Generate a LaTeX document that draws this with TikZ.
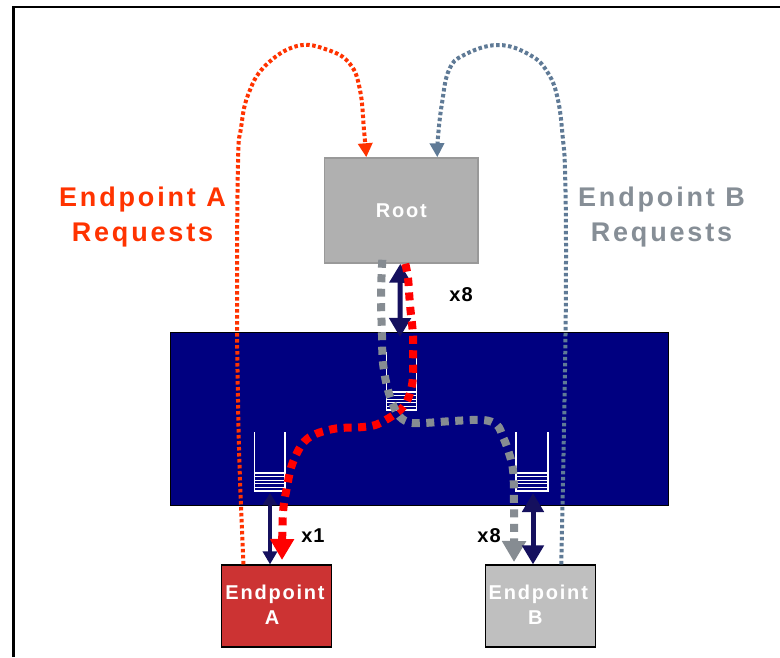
\documentclass[tikz,border=0pt]{standalone}
\usepackage{fontspec}
\setmainfont{Liberation Sans}
\newfontfamily\lsfont[LetterSpace=9]{Liberation Sans}
\newfontfamily\lgfont[LetterSpace=10.5]{Liberation Sans}
\newfontfamily\cntfont[LetterSpace=5]{Liberation Sans}
\usetikzlibrary{arrows.meta}
\definecolor{navyfill}{HTML}{000080}
\definecolor{arrownavy}{HTML}{15105E}
\definecolor{reqred}{HTML}{FF3300}
\definecolor{reqblue}{HTML}{5F7A96}
\definecolor{flowgray}{HTML}{868C92}
\definecolor{labelgray}{HTML}{868E96}
\definecolor{boxred}{HTML}{CC3333}
\tikzset{
  boxnode/.style={draw=black,line width=1.2pt,inner sep=0pt,align=center,text=white,font=\lsfont\bfseries\fontsize{20}{25}\selectfont},
  reqline/.style={line width=4pt,dash pattern=on 3.5pt off 2.5pt},
  flowline/.style={line width=8pt,dash pattern=on 8pt off 6.5pt},
  bigarrow/.style={draw=arrownavy,line width=5pt,{Triangle[width=21pt,length=19pt]}-{Triangle[width=21pt,length=19pt]}},
  smallarrow/.style={draw=arrownavy,line width=3.5pt,{Triangle[width=14pt,length=12pt]}-{Triangle[width=14pt,length=13pt]}},
  queueline/.style={draw=white,line width=1.6pt},
  sidelabel/.style={font=\lgfont\bfseries\fontsize{27}{35}\selectfont,align=center},
  countlabel/.style={font=\cntfont\bfseries\fontsize{20}{24}\selectfont,text=black}
}
\newcommand{\queuebox}[4]{% left, right, top, bottom
  \draw[queueline] (#1,#3) -- (#1,#4) -- (#2,#4) -- (#2,#3);
  \foreach \k in {1,...,5}{\draw[queueline,line width=1.2pt] (#1,#4-\k*3.6) -- (#2,#4-\k*3.6);}
}
\begin{document}
\begin{tikzpicture}[x=1pt,y=-1pt]
\useasboundingbox (0,0) rectangle (780,657);
\fill[white] (0,0) rectangle (780,657);
\draw[black,line width=2.5pt] (13.5,657) -- (13.5,7) -- (780,7);
% switch
\node[draw=black,line width=1pt,fill=navyfill,minimum width=498pt,minimum height=173pt,inner sep=0pt] (sw) at (419,418.5) {};
% boxes
\node[boxnode,draw=black!40,fill=black!31,line width=1.5pt,minimum width=153.5pt,minimum height=105pt] (root) at (401.3,210.5) {Root};
\node[boxnode,fill=boxred,minimum width=110pt,minimum height=82pt] (epA) at (276.5,606) {\raisebox{2pt}{Endpoint}\hspace*{3pt}\\\raisebox{2pt}{A}\hspace*{9pt}};
\node[boxnode,fill=black!25,minimum width=110pt,minimum height=82pt] (epB) at (540.3,606) {\raisebox{2pt}{Endpoint}\hspace*{4pt}\\\raisebox{2pt}{B}\hspace*{10pt}};
% request paths
\coordinate (reqAs) at ([xshift=-33pt]epA.north);
\coordinate (reqAe) at ([xshift=-35pt]root.north);
\coordinate (reqBs) at ([xshift=21pt]epB.north);
\coordinate (reqBe) at ([xshift=36pt]root.north);
\draw[reqline,draw=reqred,-{Triangle[width=14pt,length=14pt,fill=reqred]}] plot[smooth,tension=0.7] coordinates {(reqAs) (240,480) (238,400) (237,300) (238,163) (241,128) (248,95) (265,66) (297,46) (328,50) (350,64) (360,90) (364,130) (reqAe)};
\draw[reqline,draw=reqblue,-{Triangle[width=14pt,length=14pt,fill=reqblue]}] plot[smooth,tension=0.7] coordinates {(reqBs) (565,370) (566,250) (565,170) (563,140) (558,100) (548,73) (530,55) (498,45) (464,55) (449,70) (442,103) (438,137) (reqBe)};
% queues
\queuebox{254.5}{285}{432}{491}
\queuebox{516}{548}{432}{491}
\queuebox{386.5}{416.5}{352}{410}
% navy arrows
\coordinate (armRt) at ([xshift=-1pt]root.south);
\coordinate (armRb) at (400,337);
\coordinate (armAt) at (270,493);
\coordinate (armAb) at (epA.north -| armAt);
\coordinate (armBt) at (533,493);
\coordinate (armBb) at (epB.north -| armBt);
\draw[bigarrow] (armRt) -- (armRb);
\draw[smallarrow] (armAt) -- (armAb);
% thick flows
\coordinate (redS) at ([xshift=4pt]root.south);
\coordinate (greyS) at ([xshift=-19pt,yshift=4pt]root.south);
\coordinate (redE) at (282,560);
\coordinate (greyE) at (514,562);
\draw[flowline,draw=red,-{Triangle[width=23pt,length=21pt,fill=red]}] plot[smooth,tension=0.6] coordinates {(redS) (408,278) (410,305) (413,335) (413,358) (412,385) (403,407) (380,423) (363,427) (333,429) (307,439) (293,462) (287,487) (283,513) (redE)};
\draw[flowline,draw=flowgray,-{Triangle[width=23pt,length=21pt,fill=flowgray]}] plot[smooth,tension=0.6] coordinates {(greyS) (381,295) (382,335) (383,363) (388,390) (397,413) (408,422) (423,423) (453,421) (483,420) (497,425) (503,437) (508,450) (513,470) (514,503) (greyE)};
\draw[bigarrow] (armBt) -- (armBb);
% labels
\node[sidelabel,text=reqred] (labA) at (142.5,217) {Endpoint A\\Requests};
\node[sidelabel,text=labelgray] (labB) at (661.5,217) {Endpoint B\\Requests};
\node[countlabel] (x8a) at (461,295) {x8};
\node[countlabel] (x1) at (313,536) {x1};
\node[countlabel] (x8b) at (489,536) {x8};
\end{tikzpicture}
\end{document}
